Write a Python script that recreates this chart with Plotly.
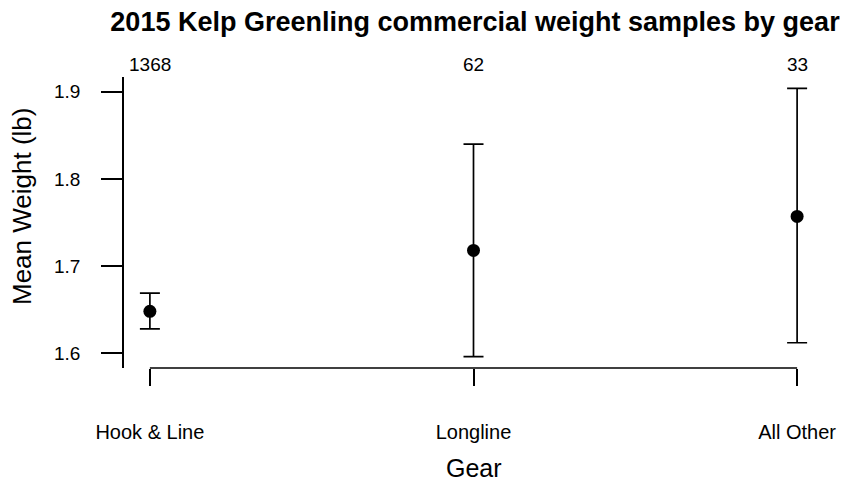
import plotly.graph_objects as go

gears = ["Hook & Line", "Longline", "All Other"]
mean_weight = [1.648, 1.718, 1.757]
lower_ci = [1.628, 1.596, 1.612]
upper_ci = [1.669, 1.840, 1.904]
sample_n = ["1368", "62", "33"]
y_ticks = [1.6, 1.7, 1.8, 1.9]

xpos = list(range(1, len(gears) + 1))
err_plus = [u - m for u, m in zip(upper_ci, mean_weight)]
err_minus = [m - l for m, l in zip(mean_weight, lower_ci)]

FONT = "Liberation Sans, Arial, sans-serif"
L, R, T, B = 124, 36, 77, 115
W, H = 859, 483
PH = H - T - B

fig = go.Figure()
fig.add_trace(go.Scatter(
    x=xpos, y=mean_weight, mode="markers",
    marker=dict(color="black", size=13, symbol="circle"),
    error_y=dict(type="data", symmetric=False, array=err_plus, arrayminus=err_minus,
                 color="black", thickness=1.7, width=10),
    showlegend=False,
))

# count labels above the plot
for xp, n in zip(xpos, sample_n):
    fig.add_annotation(x=xp, y=1, xref="x", yref="paper", text=n, showarrow=False,
                       yanchor="middle", yshift=(T - 64), font=dict(size=19, color="black", family=FONT))

# x axis line spanning first to last category
fig.add_shape(type="line", xref="x", yref="paper", x0=xpos[0], x1=xpos[-1], y0=0, y1=0,
              line=dict(color="black", width=1.7))

fig.add_annotation(text="Gear", xref="paper", yref="paper", x=0.5, y=0, yshift=-(468 - (H - B)),
                   showarrow=False, yanchor="middle", font=dict(size=25, color="black", family=FONT))
fig.add_annotation(text="Mean Weight (lb)", xref="paper", x=0, xshift=-(L - 22), yref="paper",
                   y=(H - B - 206) / PH, yanchor="middle",
                   textangle=-90, showarrow=False, xanchor="center",
                   font=dict(size=26, color="black", family=FONT))

fig.update_layout(
    width=W, height=H,
    margin=dict(l=L, r=R, t=T, b=B, autoexpand=False),
    paper_bgcolor="white", plot_bgcolor="white",
    font=dict(family=FONT, color="black"),
    title=dict(text="<b>2015 Kelp Greenling commercial weight samples by gear</b>",
               x=475 / W, xanchor="center", y=1 - 22 / H, yanchor="middle",
               font=dict(size=27, color="black", family=FONT)),
    xaxis=dict(range=[0.92, 3.08], tickvals=xpos, ticktext=gears, showgrid=False, zeroline=False,
               showline=False, ticks="outside", ticklen=17, tickwidth=1.7, tickcolor="black",
               automargin=False,
               tickfont=dict(size=20, color="black", family=FONT), ticklabelstandoff=29),
    yaxis=dict(range=[1.583, 1.917], tickvals=y_ticks, ticktext=[str(v) for v in y_ticks],
               showgrid=False, zeroline=False, showline=True, linecolor="black", linewidth=1.7,
               ticks="outside", ticklen=21, tickwidth=1.7, tickcolor="black", automargin=False,
               tickfont=dict(size=19, color="black", family=FONT), ticklabelstandoff=17),
)

fig.write_html("out.html", config={"displayModeBar": False},
               post_script="document.body.style.margin='0';document.body.style.overflow='hidden';")
